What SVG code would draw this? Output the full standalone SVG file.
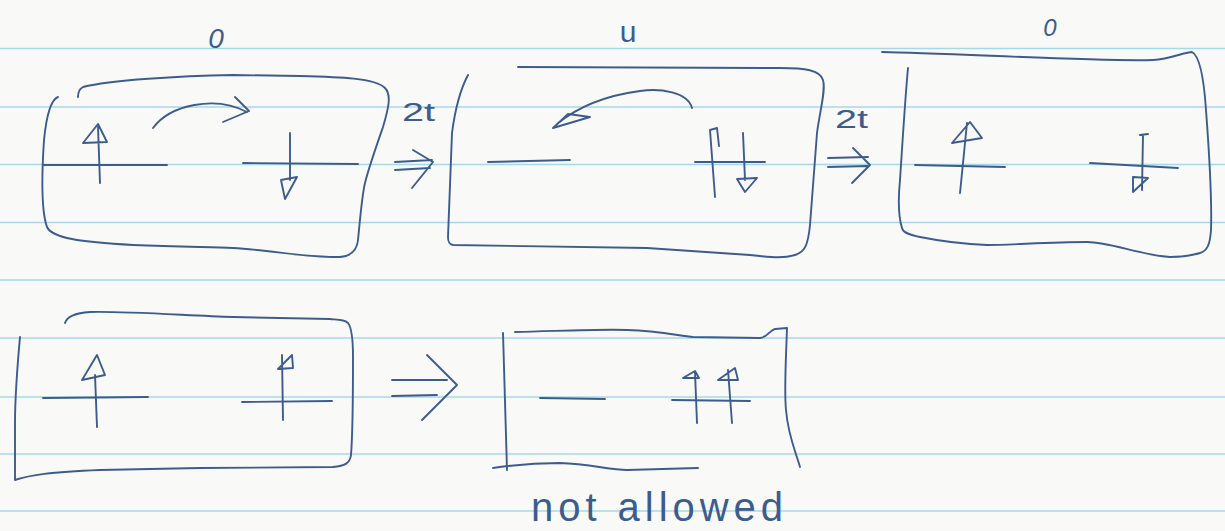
<svg xmlns="http://www.w3.org/2000/svg" width="1225" height="531" viewBox="0 0 1225 531">
<style>
.ink{fill:none;stroke:#3d5c8e;stroke-width:1.9;stroke-linecap:round;stroke-linejoin:round}
.rule{stroke:#a6d8e8;stroke-width:1.5}
.txt{font-family:"Liberation Sans","DejaVu Sans",sans-serif;fill:#3d5c8e}
</style>
<rect x="0" y="0" width="1225" height="531" fill="#f9f9f8"/>
<g id="paper-lines">
<line class="rule" x1="0" y1="48.5" x2="1225" y2="48.5"/>
<line class="rule" x1="0" y1="107" x2="1225" y2="107"/>
<line class="rule" x1="0" y1="164.5" x2="1225" y2="164.5"/>
<line class="rule" x1="0" y1="222.5" x2="1225" y2="222.5"/>
<line class="rule" x1="0" y1="280" x2="1225" y2="280"/>
<line class="rule" x1="0" y1="338" x2="1225" y2="338"/>
<line class="rule" x1="0" y1="397" x2="1225" y2="397"/>
<line class="rule" x1="0" y1="454" x2="1225" y2="454"/>
<line class="rule" x1="0" y1="511" x2="1225" y2="511"/>
</g>
<g id="box1">
<path class="ink" d="M 58,97 C 50,100 46,120 44,140 C 42,170 41,210 47,227 C 52,238 80,242 133,245 C 180,247 210,247 233,248 C 270,250 310,258 340,257 C 352,256 357,250 358,240 C 360,220 362,195 365,183 C 368,170 375,150 383,127 C 388,110 392,95 385,88 C 375,78 340,77 300,76 L 233,75 C 180,76 110,80 83,87 C 79,89 78,93 78,97"/>
<path class="ink" d="M 43,165 L 167,165"/>
<path class="ink" d="M 100,183 L 98,127 M 83,143 L 98,124 L 107,142 Z"/>
<path class="ink" d="M 243,163 L 358,164"/>
<path class="ink" d="M 290,133 L 290,180 M 281,180 L 297,177 L 285,199 Z"/>
<path class="ink" d="M 153,128 C 170,105 215,95 247,112 M 235,97 L 249,111 L 223,122"/>
<text class="txt" x="216" y="48" font-size="28" text-anchor="middle" font-style="italic">0</text>
</g>
<g id="box2">
<path class="ink" d="M 518,67 L 780,68 C 805,68 820,70 823,80 C 826,90 820,110 817,133 C 814,170 812,200 810,225 C 808,245 805,252 795,255 C 785,258 775,258 750,255 L 647,248 L 453,245 C 448,244 448,240 448,237 L 452,133 C 455,110 460,90 468,75"/>
<path class="ink" d="M 488,162 L 570,160"/>
<path class="ink" d="M 695,162 L 765,162"/>
<path class="ink" d="M 715,197 L 710,130 L 717,128 L 719,146"/>
<path class="ink" d="M 743,133 L 745,180 M 737,179 L 757,178 L 745,192 Z"/>
<path class="ink" d="M 692,108 C 688,92 660,88 640,91 C 610,95 580,105 557,124 M 568,114 L 553,128 L 590,117 Z"/>
<text class="txt" x="628" y="42" font-size="30" text-anchor="middle">u</text>
</g>
<g id="box3">
<path class="ink" d="M 882,52 C 950,53 1100,62 1153,60 C 1170,59 1185,52 1192,52 C 1200,56 1204,80 1206,110 C 1209,150 1212,200 1211,230 C 1210,245 1207,251 1200,253 C 1190,256 1180,257 1170,257 C 1140,255 1110,242 1087,242 C 1050,242 1010,245 987,245 C 960,244 935,240 920,237 C 910,235 903,233 902,228 C 898,215 898,200 900,180 C 902,150 905,100 908,68"/>
<path class="ink" d="M 915,165 L 1005,167"/>
<path class="ink" d="M 960,193 L 967,123 M 952,143 L 970,122 L 982,138 Z"/>
<path class="ink" d="M 1090,163 L 1178,168"/>
<path class="ink" d="M 1140,135 L 1148,134 M 1143,135 L 1142,190 M 1133,177 L 1133,192 L 1148,178 Z"/>
<text class="txt" x="1050" y="36" font-size="24" text-anchor="middle" font-style="italic">0</text>
</g>
<g id="box4">
<path class="ink" d="M 20,337 C 17,370 15,400 15,423 L 15,480 C 30,475 50,472 100,470 L 200,468 L 333,467 C 345,466 350,463 351,455 C 353,430 353,400 353,357 C 353,340 352,328 348,323 C 345,320 340,320 330,319 L 233,317 C 180,315 120,311 90,312 C 75,313 67,316 65,323"/>
<path class="ink" d="M 43,398 L 148,397"/>
<path class="ink" d="M 97,427 L 95,375 M 82,380 L 97,355 L 105,375 Z"/>
<path class="ink" d="M 242,402 L 332,401"/>
<path class="ink" d="M 283,420 L 282,355 M 278,369 L 292,355 L 293,368 Z"/>
</g>
<g id="box5">
<path class="ink" d="M 503,333 L 507,470"/>
<path class="ink" d="M 515,332 C 560,331 600,329 627,330 C 660,331 680,336 693,337 L 760,338 C 768,337 770,330 775,329 L 787,328 C 786,360 784,390 786,410 C 788,435 795,450 800,467"/>
<path class="ink" d="M 493,468 C 520,464 545,463 560,463 C 590,464 610,470 627,470 L 698,468"/>
<path class="ink" d="M 540,398 L 605,399"/>
<path class="ink" d="M 672,400 L 750,401"/>
<path class="ink" d="M 697,423 L 695,372 M 683,378 L 695,371 L 699,378 Z"/>
<path class="ink" d="M 732,423 L 728,370 M 718,380 L 735,368 L 738,380 Z"/>
<text class="txt" x="531" y="521" font-size="40" textLength="252" lengthAdjust="spacing">not allowed</text>
</g>
<g id="connectors">
<path class="ink" d="M 395,162 L 432,160 M 395,170 L 430,168 M 413,150 L 433,162 L 412,188"/>
<text class="txt" x="402" y="121" font-size="26" textLength="33" lengthAdjust="spacingAndGlyphs">2t</text>
<path class="ink" d="M 828,158 L 868,157 M 828,167 L 868,166 M 853,148 L 870,165 L 852,183"/>
<text class="txt" x="835" y="128" font-size="26" textLength="33" lengthAdjust="spacingAndGlyphs">2t</text>
<path class="ink" d="M 392,380 L 447,380 M 392,396 L 437,395 M 427,355 L 457,385 L 422,420"/>
</g>
</svg>
